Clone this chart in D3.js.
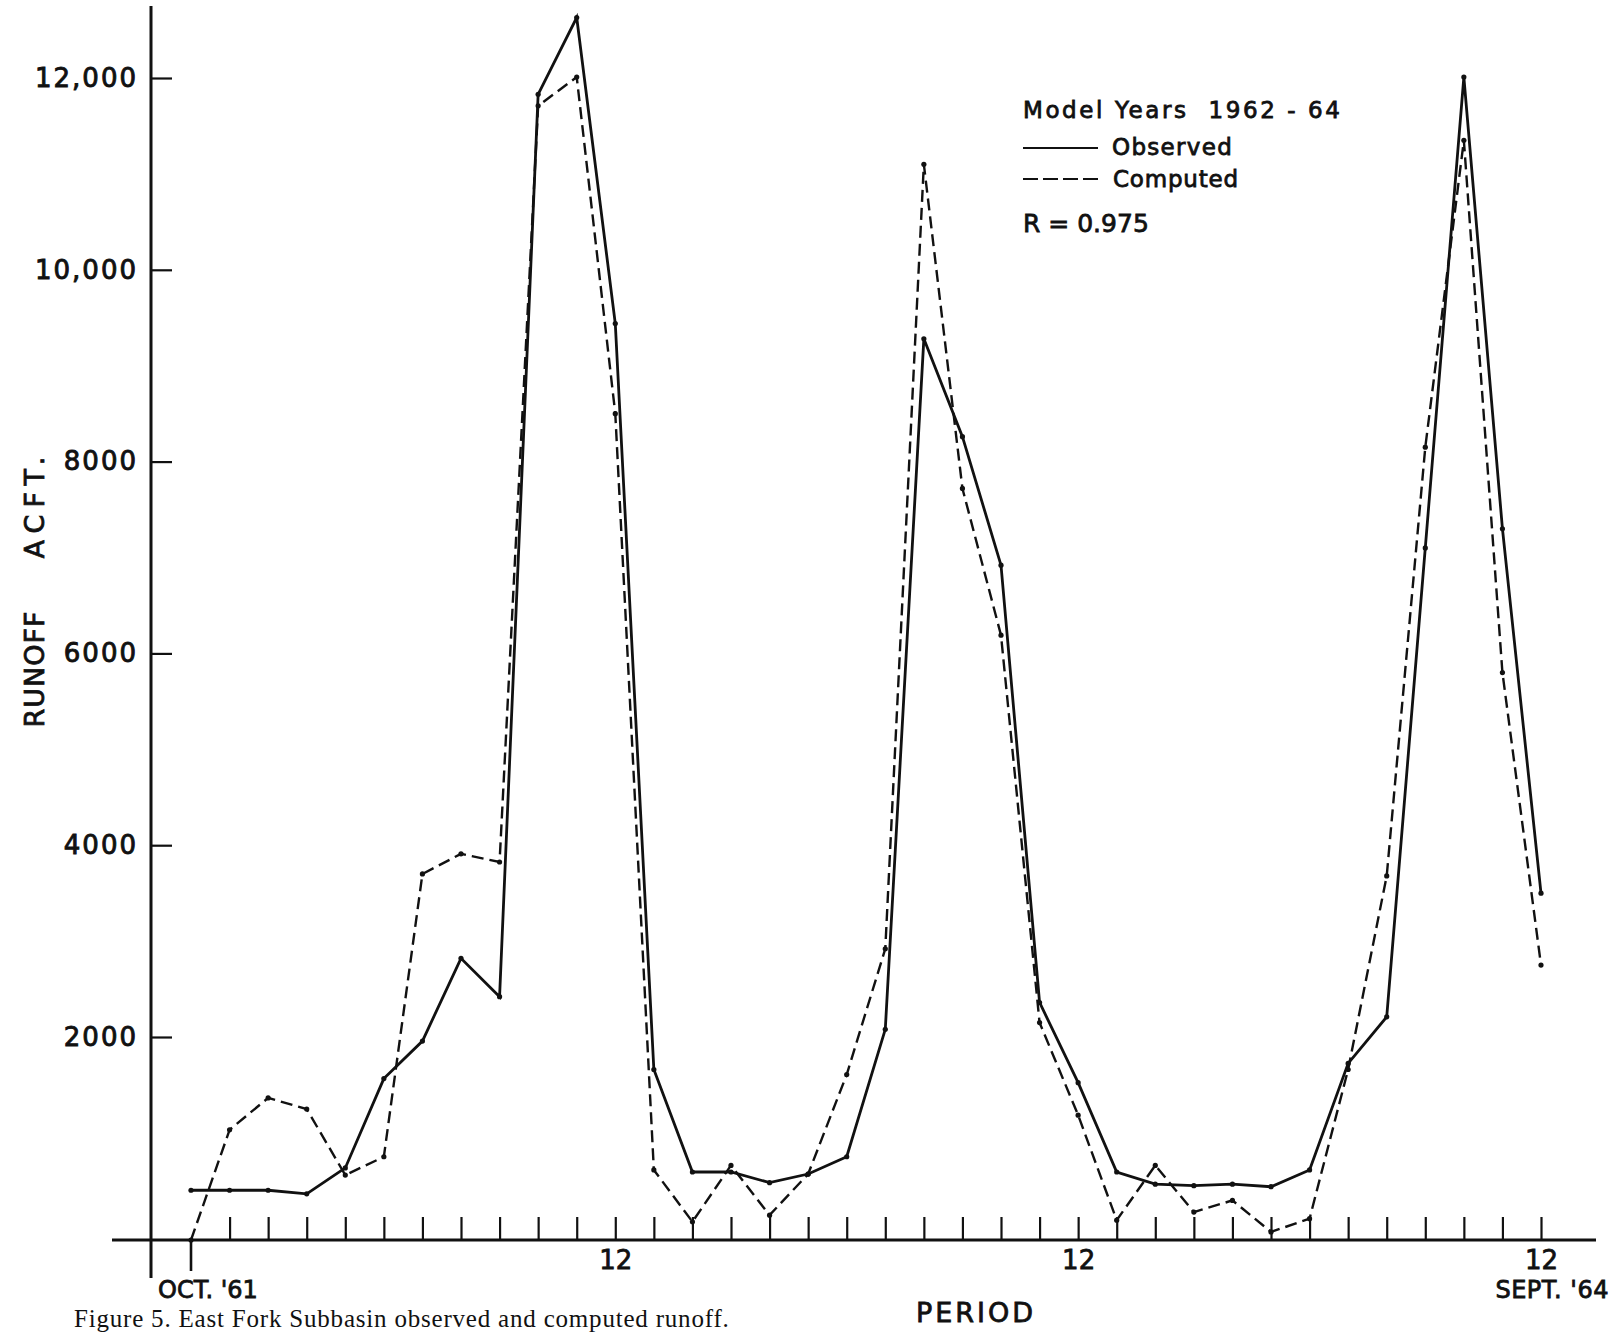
<!DOCTYPE html>
<html>
<head>
<meta charset="utf-8">
<script src="https://cdn.jsdelivr.net/npm/d3@7"></script>
<style>
  body { margin: 0; background: #fff; }
  svg { display: block; }
  text { font-family: "DejaVu Sans", sans-serif; fill: #111; }
</style>
</head>
<body>
<script>
// months Oct '61 .. Sept '64 (water years 1962-64)
var months = d3.range(1, 37);

// observed runoff, acre-feet (solid line)
var observed = [490, 490, 490, 455, 710, 1590, 1960, 2820, 2420, 11830, 12630, 9440,
                1680, 670, 670, 565, 650, 820, 2080, 9280, 8260, 6920, 2360, 1550,
                670, 550, 535, 550, 525, 690, 1740, 2210, 7100, 12010, 7300, 3500];

// computed runoff, acre-feet (dashed line)
var computed = [0, 1085, 1400, 1290, 640, 820, 3700, 3910, 3825, 11710, 12010, 8500,
                690, 180, 735, 245, 650, 1630, 2920, 11100, 7720, 6190, 2150, 1230,
                195, 735, 275, 390, 80, 210, 1680, 3680, 8150, 11350, 5800, 2750];

// axis ticks
var yTicks = [2000, 4000, 6000, 8000, 10000, 12000];
var yTickLabels = ["2000", "4000", "6000", "8000", "10,000", "12,000"];
var xTicks = d3.range(2, 37);
var xLabelled = [12, 24, 36];

var W = 1621, H = 1332;
var ink = "#111";

var svg = d3.select("body").append("svg").attr("width", W).attr("height", H);

// month scale
var x = d3.scaleLinear().domain([1, 36]).range([191, 1541]);
// the hand drawn grid has a slightly taller first 2000 step
var y = d3.scaleLinear().domain([0, 2000, 12000]).range([1240, 1037, 78]);

// main axis lines
svg.append("line").attr("x1", 151).attr("x2", 151).attr("y1", 6).attr("y2", 1278)
  .attr("stroke", ink).attr("stroke-width", 3);
svg.append("line").attr("x1", 112).attr("x2", 1596).attr("y1", y(0)).attr("y2", y(0))
  .attr("stroke", ink).attr("stroke-width", 3);

// y axis ticks point inwards, labels on the left
var yAxis = d3.axisLeft(y)
  .tickValues(yTicks)
  .tickSizeInner(-21)
  .tickSizeOuter(0)
  .tickPadding(13)
  .tickFormat(function (d, i) { return yTickLabels[i]; });

var gy = svg.append("g").attr("transform", "translate(151,0)").call(yAxis);
gy.select(".domain").remove();
gy.selectAll(".tick line").attr("stroke", ink).attr("stroke-width", 2.2);
gy.selectAll(".tick text")
  .attr("font-size", 26)
  .attr("letter-spacing", 2).attr("fill", ink)
  .attr("stroke", ink).attr("stroke-width", 0.9);

// x axis ticks point up, only month 12 of each year labelled
var xAxis = d3.axisBottom(x)
  .tickValues(xTicks)
  .tickSizeInner(-23)
  .tickSizeOuter(0)
  .tickPadding(11)
  .tickFormat(function (d) { return xLabelled.indexOf(d) >= 0 ? "12" : ""; });

var gx = svg.append("g").attr("transform", "translate(0," + y(0) + ")").call(xAxis);
gx.select(".domain").remove();
gx.selectAll(".tick line").attr("stroke", ink).attr("stroke-width", 2.2);
gx.selectAll(".tick text")
  .attr("font-size", 26)
  .attr("fill", ink).attr("stroke", ink).attr("stroke-width", 0.8);

// first month mark hangs below the axis
svg.append("line").attr("x1", x(1)).attr("x2", x(1)).attr("y1", y(0)).attr("y2", 1271)
  .attr("stroke", ink).attr("stroke-width", 2.6);

// end labels
svg.append("text").attr("x", 158).attr("y", 1298).attr("font-size", 24)
  .attr("stroke", ink).attr("stroke-width", 0.8).text("OCT. '61");
svg.append("text").attr("x", 1609).attr("y", 1298).attr("font-size", 24)
  .attr("text-anchor", "end").attr("letter-spacing", 0.5)
  .attr("stroke", ink).attr("stroke-width", 0.8).text("SEPT. '64");

// axis titles
svg.append("text").attr("x", 976).attr("y", 1322).attr("font-size", 27)
  .attr("text-anchor", "middle").attr("letter-spacing", 3)
  .attr("stroke", ink).attr("stroke-width", 0.8).text("PERIOD");
svg.append("text").attr("transform", "translate(44,669) rotate(-90)")
  .attr("font-size", 27).attr("text-anchor", "middle").attr("letter-spacing", 1)
  .attr("stroke", ink).attr("stroke-width", 0.8).text("RUNOFF");
svg.append("text").attr("transform", "translate(44,504) rotate(-90)")
  .attr("font-size", 27).attr("text-anchor", "middle").attr("letter-spacing", 7)
  .attr("stroke", ink).attr("stroke-width", 0.8).text("ACFT.");

// line generator
var line = d3.line()
  .x(function (d, i) { return x(months[i]); })
  .y(function (d) { return y(d); });

svg.append("path").datum(computed).attr("d", line)
  .attr("fill", "none").attr("stroke", ink).attr("stroke-width", 2.4)
  .attr("stroke-dasharray", "12,6");

svg.append("path").datum(observed).attr("d", line)
  .attr("fill", "none").attr("stroke", ink).attr("stroke-width", 2.8)
  .attr("stroke-linejoin", "miter");

// small dots at every plotted month
[observed, computed].forEach(function (series) {
  svg.append("g").selectAll("circle")
    .data(series)
    .enter()
    .append("circle")
    .attr("cx", function (d, i) { return x(months[i]); })
    .attr("cy", function (d) { return y(d); })
    .attr("r", 2.6)
    .attr("fill", ink);
});

// legend
var legend = svg.append("g");
legend.append("text").attr("x", 1023).attr("y", 118).attr("font-size", 23)
  .style("white-space", "pre").attr("letter-spacing", 2.6)
  .attr("stroke", ink).attr("stroke-width", 0.8).text("Model Years  1962 - 64");
legend.append("line").attr("x1", 1023).attr("x2", 1098).attr("y1", 148).attr("y2", 148)
  .attr("stroke", ink).attr("stroke-width", 2.2);
legend.append("text").attr("x", 1112).attr("y", 155).attr("font-size", 23)
  .attr("letter-spacing", 1.3).attr("stroke", ink).attr("stroke-width", 0.8).text("Observed");
legend.append("line").attr("x1", 1023).attr("x2", 1098).attr("y1", 179).attr("y2", 179)
  .attr("stroke", ink).attr("stroke-width", 2.2).attr("stroke-dasharray", "15,5");
legend.append("text").attr("x", 1113).attr("y", 187).attr("font-size", 23)
  .attr("letter-spacing", 0.8).attr("stroke", ink).attr("stroke-width", 0.8).text("Computed");
legend.append("text").attr("x", 1023).attr("y", 232).attr("font-size", 25)
  .attr("stroke", ink).attr("stroke-width", 0.8).text("R = 0.975");

// caption at the bottom edge, kept just inside the page (serif, like the print)
svg.append("text").attr("x", 74).attr("y", 1326.5)
  .style("font-family", "'Liberation Serif', serif").attr("font-size", 25)
  .attr("letter-spacing", 0.8)
  .text("Figure 5.  East Fork Subbasin observed and computed runoff.");
</script>
</body>
</html>
